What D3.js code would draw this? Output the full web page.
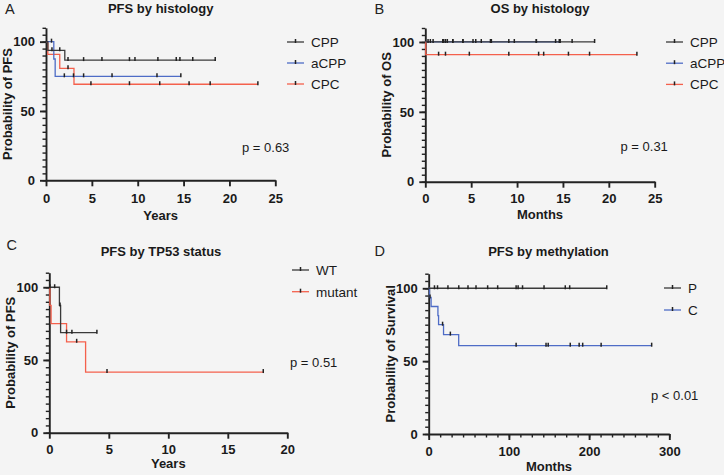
<!DOCTYPE html>
<html>
<head>
<meta charset="utf-8">
<script src="https://cdn.jsdelivr.net/npm/d3@7"></script>
<style>
	body { margin: 0; background: #f4f4f4; }
	svg { display: block; font-family: "Liberation Sans", Arial, sans-serif; }
</style>
</head>
<body>
<div id="chart"></div>
<script>
// step points are [time, survival from that time on]; last point = end of follow-up

// A - PFS by histology (years)
const pfsCPP = [[0, 100], [0.2, 93.75], [2.05, 86.7], [18.45, 86.7]];
const pfsCPPCens = [0.65, 1.5, 2.4, 4.1, 6.1, 9.1, 9.7, 12.2, 14.2, 14.6, 16.0, 18.45];
const pfsACPP = [[0, 100], [0.85, 87.5], [1.0, 75], [14.7, 75]];
const pfsACPPCens = [0.6, 2.0, 3.0, 4.1, 7.2, 12.1, 14.7];
const pfsCPC = [[0, 100], [0.2, 90.9], [1.5, 80.8], [3.05, 69.3], [23.1, 69.3]];
const pfsCPCCens = [2.4, 4.9, 9.1, 12.4, 15.6, 17.9, 23.1];

// B - OS by histology
const osCPP = [[0, 100], [18.45, 100]];
const osCPPCens = [0.3, 0.55, 0.85, 1.9, 2.2, 2.4, 3.0, 4.1, 5.2, 5.5, 6.1, 7.1, 9.1, 9.7, 12.1, 14.2, 14.6, 16.0, 18.45];
const osACPP = [[0, 100], [14.7, 100]];
const osACPPCens = [2.0, 3.0, 4.1, 7.2, 12.1, 14.7];
const osCPC = [[0, 100], [0.05, 90.9], [23.06, 90.9]];
const osCPCCens = [1.45, 2.2, 4.8, 9.1, 12.35, 12.9, 15.6, 17.9, 23.06];

// C - PFS by TP53 status
const tpWT = [[0, 100], [0.85, 87.5], [0.95, 68.75], [4.0, 68.75]];
const tpWTCens = [0.05, 0.45, 0.9, 1.45, 1.9, 4.0];
const tpMut = [[0, 100], [0.05, 87.5], [0.15, 75], [1.45, 62.5], [3.05, 41.7], [17.98, 41.7]];
const tpMutCens = [2.3, 4.85, 17.98];

// D - PFS by methylation (months)
const methP = [[0, 100], [222, 100]];
const methPCens = [7.2, 11, 24, 37.5, 49, 59, 73.5, 86, 109, 111.5, 117, 143.8, 170.3, 175.8, 222];
const methC = [[0, 100], [1, 93.75], [3, 87.5], [11.5, 81.25], [12.3, 75], [18.5, 68.2], [37.4, 60.6], [278, 60.6]];
const methCCens = [1.6, 17.3, 27, 109, 146.3, 149, 176.5, 187.6, 192, 215, 278];

const yTicks = [0, 50, 100];
const xTicksA = [0, 5, 10, 15, 20, 25];
const xTicksC = [0, 5, 10, 15, 20];
const xTicksD = [0, 100, 200, 300];

const BLACK = '#3a3a3a', BLUE = '#4e6cc6', RED = '#f4604c';

const panels = [
	{
		letter: 'A', title: 'PFS by histology', xLabel: 'Years', yLabel: 'Probability of PFS',
		xMax: 25, xTicks: xTicksA, xMinor: null,
		box: {left: 46, right: 275.3, top: 27.8, bottom: 180.3},
		titleX: 160.7, titleY: 13, letterXY: [5, 14], xLabelY: 219.5, tickY: 23,
		legend: {x: 287, y: 42, dy: 21},
		p: {text: 'p = 0.63', x: 242, y: 147},
		series: [
			{name: 'CPP', color: BLACK, steps: pfsCPP, cens: pfsCPPCens},
			{name: 'aCPP', color: BLUE, steps: pfsACPP, cens: pfsACPPCens},
			{name: 'CPC', color: RED, steps: pfsCPC, cens: pfsCPCCens}
		],
		order: [2, 1, 0]
	},
	{
		letter: 'B', title: 'OS by histology', xLabel: 'Months', yLabel: 'Probability of OS',
		xMax: 25, xTicks: xTicksA, xMinor: null,
		box: {left: 425.3, right: 654.7, top: 28, bottom: 181.7},
		titleX: 540, titleY: 13, letterXY: [374.5, 14], xLabelY: 219, tickY: 21.5,
		legend: {x: 666, y: 42, dy: 21.2},
		p: {text: 'p = 0.31', x: 620.5, y: 146.7},
		series: [
			{name: 'CPP', color: BLACK, steps: osCPP, cens: osCPPCens},
			{name: 'aCPP', color: BLUE, steps: osACPP, cens: osACPPCens},
			{name: 'CPC', color: RED, steps: osCPC, cens: osCPCCens}
		],
		order: [1, 2, 0]
	},
	{
		letter: 'C', title: 'PFS by TP53 status', xLabel: 'Years', yLabel: 'Probability of PFS',
		xMax: 20, xTicks: xTicksC, xMinor: null,
		box: {left: 49.3, right: 287.3, top: 272.7, bottom: 432.7},
		titleX: 161, titleY: 256, letterXY: [6.5, 250], xLabelY: 468, tickY: 21.5,
		legend: {x: 292, y: 270, dy: 21.7},
		p: {text: 'p = 0.51', x: 290, y: 362},
		series: [
			{name: 'WT', color: BLACK, steps: tpWT, cens: tpWTCens},
			{name: 'mutant', color: RED, steps: tpMut, cens: tpMutCens}
		],
		order: [1, 0]
	},
	{
		letter: 'D', title: 'PFS by methylation', xLabel: 'Months', yLabel: 'Probability of Survival',
		xMax: 300, xTicks: xTicksD, xMinor: 100 / 7,
		box: {left: 428.7, right: 669.3, top: 273.7, bottom: 434},
		titleX: 548.5, titleY: 255.5, letterXY: [374.5, 256], xLabelY: 471, tickY: 21.5,
		legend: {x: 664, y: 288, dy: 22},
		p: {text: 'p < 0.01', x: 651, y: 395},
		series: [
			{name: 'P', color: BLACK, steps: methP, cens: methPCens},
			{name: 'C', color: BLUE, steps: methC, cens: methCCens}
		],
		order: [1, 0]
	}
];

const svg = d3.select('#chart')
	.append('svg')
	.attr('width', 724)
	.attr('height', 475);

svg.append('rect')
	.attr('width', 724)
	.attr('height', 475)
	.attr('fill', '#f4f4f4');

function survivalAt(steps, t) {
	const i = d3.bisector(d => d[0]).right(steps, t) - 1;
	return steps[Math.max(0, i)][1];
}

function censorMark(sel, x, y) {
	return sel.append('line')
		.attr('x1', x).attr('x2', x)
		.attr('y1', y - 3).attr('y2', y + 1)
		.attr('stroke', '#222')
		.attr('stroke-width', 1.5);
}

function drawPanel(cfg) {
	const { box } = cfg;
	const g = svg.append('g');

	const x = d3.scaleLinear().domain([0, cfg.xMax]).range([box.left, box.right]);
	const y = d3.scaleLinear().domain([0, 110]).range([box.bottom, box.top]);

	// panel letter and title
	g.append('text')
		.attr('x', cfg.letterXY[0]).attr('y', cfg.letterXY[1])
		.attr('font-size', 14.5).attr('fill', '#222')
		.text(cfg.letter);

	g.append('text')
		.attr('x', cfg.titleX).attr('y', cfg.titleY)
		.attr('text-anchor', 'middle')
		.attr('font-size', 13).attr('font-weight', 'bold').attr('fill', '#1a1a1a')
		.text(cfg.title);

	// y axis (minor then major)
	g.append('g')
		.attr('transform', `translate(${box.left},0)`)
		.call(d3.axisLeft(y).tickValues(d3.range(0, 111, 5)).tickSize(3.5).tickFormat(''))
		.call(a => a.select('.domain').remove())
		.call(a => a.selectAll('.tick line').attr('stroke', '#222').attr('stroke-width', 1.4));

	g.append('g')
		.attr('transform', `translate(${box.left},0)`)
		.call(d3.axisLeft(y).tickValues(yTicks).tickSize(6).tickSizeOuter(0).tickPadding(5))
		.call(a => a.select('.domain').attr('stroke', '#222').attr('stroke-width', 1.9))
		.call(a => a.selectAll('.tick line').attr('stroke', '#222').attr('stroke-width', 1.9))
		.call(a => a.selectAll('.tick text')
			.attr('font-family', '"Liberation Sans", Arial, sans-serif')
			.attr('font-size', 13).attr('font-weight', 'bold').attr('fill', '#1a1a1a'));

	// x axis
	if (cfg.xMinor) {
		g.append('g')
			.attr('transform', `translate(0,${box.bottom})`)
			.call(d3.axisBottom(x).tickValues(d3.range(0, cfg.xMax + 0.01, cfg.xMinor)).tickSize(3.5).tickFormat(''))
			.call(a => a.select('.domain').remove())
			.call(a => a.selectAll('.tick line').attr('stroke', '#222').attr('stroke-width', 1.4));
	}

	g.append('g')
		.attr('transform', `translate(0,${box.bottom})`)
		.call(d3.axisBottom(x).tickValues(cfg.xTicks).tickSize(6).tickSizeOuter(0).tickPadding(5))
		.call(a => a.select('.domain').attr('stroke', '#222').attr('stroke-width', 1.9))
		.call(a => a.selectAll('.tick line').attr('stroke', '#222').attr('stroke-width', 1.9))
		.call(a => a.selectAll('.tick text')
			.attr('y', cfg.tickY).attr('dy', null)
			.attr('font-family', '"Liberation Sans", Arial, sans-serif')
			.attr('font-size', 13).attr('font-weight', 'bold').attr('fill', '#1a1a1a'));

	// axis titles
	g.append('text')
		.attr('x', (box.left + box.right) / 2).attr('y', cfg.xLabelY)
		.attr('text-anchor', 'middle')
		.attr('font-size', 13).attr('font-weight', 'bold').attr('fill', '#1a1a1a')
		.text(cfg.xLabel);

	g.append('text')
		.attr('transform', `translate(${box.left - 34},${(box.top + box.bottom) / 2}) rotate(-90)`)
		.attr('text-anchor', 'middle')
		.attr('font-size', 13).attr('font-weight', 'bold').attr('fill', '#1a1a1a')
		.text(cfg.yLabel);

	// curves
	const line = d3.line()
		.x(d => x(d[0]))
		.y(d => y(d[1]))
		.curve(d3.curveStepAfter);

	cfg.order.forEach(i => {
		const s = cfg.series[i];
		g.append('path')
			.attr('d', line(s.steps))
			.attr('fill', 'none')
			.attr('stroke', s.color)
			.attr('stroke-width', 1.3);
	});

	cfg.order.forEach(i => {
		const s = cfg.series[i];
		s.cens.forEach(t => censorMark(g, x(t), y(survivalAt(s.steps, t))));
	});

	// legend
	const { legend } = cfg;
	cfg.series.forEach((s, i) => {
		const ly = legend.y + i * legend.dy;
		g.append('line')
			.attr('x1', legend.x).attr('x2', legend.x + 17)
			.attr('y1', ly).attr('y2', ly)
			.attr('stroke', s.color).attr('stroke-width', 1.3);
		censorMark(g, legend.x + 8.5, ly);
		g.append('text')
			.attr('x', legend.x + 24).attr('y', ly)
			.attr('dy', '0.36em')
			.attr('font-size', 13.5).attr('fill', '#1a1a1a')
			.text(s.name);
	});

	// p value
	g.append('text')
		.attr('x', cfg.p.x).attr('y', cfg.p.y)
		.attr('dy', '0.36em')
		.attr('font-size', 13).attr('fill', '#1a1a1a')
		.text(cfg.p.text);
}

panels.forEach(drawPanel);
</script>
</body>
</html>
